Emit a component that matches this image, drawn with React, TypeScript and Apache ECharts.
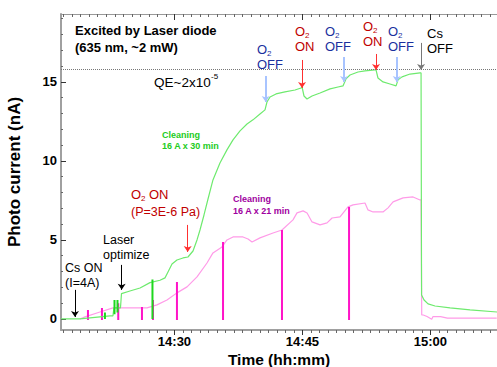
import React, { useEffect, useRef } from "react";
import * as echarts from "echarts";

// time in minutes after 14:00, current in nA
const X_MIN = 16.7;
const X_MAX = 67.8;
const Y_MIN = -0.7;
const Y_MAX = 19.3;
const MAJOR_X = [30, 45, 60];
const MINOR_X = Array.from({ length: 51 }, (_, i) => 17 + i).filter((v) => v % 15 !== 0);
const MAJOR_Y = [0, 5, 10, 15];
const MINOR_Y = [1, 2, 3, 4, 6, 7, 8, 9, 11, 12, 13, 14, 16, 17, 18, 19];
const QE_LEVEL = 15.82;

const greenCurve: number[][] = [
  [16.69, 0], [18.92, 0], [21.27, 0.13], [22.44, 0.19], [22.79, 0.2], [22.9, 0.7], [23.67, 0.7], [23.79, 1.6],
  [24.78, 1.77], [25.96, 1.96], [27.13, 2.3], [28.3, 2.45], [28.89, 2.6], [29.24, 2.97], [29.71, 3.48],
  [30.29, 3.73], [31.0, 3.86], [31.58, 3.92], [32.17, 4.3], [32.64, 5.0], [32.99, 5.63], [33.46, 6.58],
  [33.93, 7.59], [34.51, 8.8], [35.33, 9.87], [36.15, 10.7], [36.86, 11.33], [37.68, 11.9], [38.5, 12.34],
  [39.2, 12.6], [40.02, 12.97], [40.61, 13.23], [40.84, 13.73], [41.2, 14.05], [41.9, 14.24], [42.95, 14.37],
  [44.13, 14.49], [44.83, 14.62], [44.95, 14.68], [45.18, 14.11], [45.53, 13.92], [46.12, 14.11], [47.06, 14.3],
  [48.23, 14.56], [49.17, 14.68], [49.75, 14.75], [50.1, 15.19], [50.57, 15.44], [51.51, 15.63], [52.33, 15.7],
  [53.5, 15.76], [53.62, 15.76], [53.85, 15.25], [54.44, 15.0], [55.26, 14.87], [55.97, 14.75], [56.2, 15.13],
  [56.67, 15.32], [57.61, 15.5], [58.78, 15.57], [58.9, 15.57], [58.96, 1.52], [59.25, 1.2], [59.72, 0.95],
  [60.54, 0.82], [62.3, 0.7], [64.64, 0.57], [67.81, 0.44],
];

const greenSpikes: (number | string)[][] = [
  [21.85, 0], [21.85, 0.4], [21.85, "-"],
  [22.97, 0.3], [22.97, 1.2], [22.97, "-"],
  [23.32, 0.4], [23.32, 1.2], [23.32, "-"],
  [27.42, 2.5], [27.42, 0],
];

const pinkCurve: number[][] = [
  [18.92, 0], [19.51, 0.13], [21.27, 0.44], [22.79, 0.7], [25.13, 0.7], [26.78, 0.7], [27.95, 0.89],
  [29.12, 1.2], [30.29, 1.65], [31.47, 2.03], [32.64, 2.66], [33.81, 3.54], [34.51, 4.18], [35.57, 4.56],
  [36.15, 5.0], [36.86, 5.19], [38.03, 5.19], [38.62, 5.06], [39.09, 4.87], [40.02, 5.13], [41.55, 5.44],
  [42.6, 5.63], [43.89, 6.27], [44.36, 6.71], [45.07, 6.84], [45.54, 6.71], [46.12, 6.14], [47.06, 5.95],
  [47.88, 6.08], [48.47, 6.39], [49.4, 6.46], [50.34, 7.09], [50.93, 7.22], [52.33, 7.34], [52.68, 6.9],
  [53.27, 6.77], [54.44, 6.77], [55.03, 7.03], [55.62, 7.41], [56.79, 7.66], [57.96, 7.72], [58.78, 7.53],
  [58.9, 7.53], [58.98, 0.25], [59.16, 0.25], [59.6, 0.15], [60.15, -0.02], [60.3, 0.15], [61.19, 0.15],
  [61.98, 0.05], [65.0, 0.05], [67.77, 0.05],
];

const pinkSpikeX = [19.86, 21.5, 23.41, 26.19, 27.48, 30.29, 35.69, 42.6, 50.46];
const pinkSpikeTop = [0.57, 0.7, 1.0, 0.76, 1.2, 2.34, 4.87, 5.63, 7.09];

// annotation arrows: x, start value, end value, kind
const arrows: [number, number, number, string][] = [
  [18.34, 1.84, 0.13, "black"],
  [23.81, 3.42, 1.84, "black"],
  [31.55, 5.95, 4.24, "red"],
  [40.69, 15.38, 13.73, "blue"],
  [44.95, 16.39, 14.62, "red"],
  [49.87, 16.58, 15.0, "blue"],
  [53.62, 16.77, 15.76, "red"],
  [56.05, 16.58, 15.0, "blue"],
  [58.9, 17.47, 15.76, "grey"],
];

const FONT = "'Liberation Sans', Arial, sans-serif";
const RED = "#c00000";
const BLUE = "#1a2f9e";
const ARROW_COLORS: Record<string, string> = {
  black: "#000000",
  red: "#ff3030",
  blue: "#a8c4ff",
  grey: "#777777",
};

function t(x: number, y: number, text: string, size: number, fill: string, weight = "normal") {
  return {
    type: "text",
    x,
    y,
    silent: true,
    style: { text, fill, font: `${weight} ${size}px ${FONT}`, verticalAlign: "top", align: "left" },
  };
}

function o2Label(x: number, y: number, second: string, fill: string) {
  return [
    t(x, y, "O", 13, fill),
    t(x + 10, y + 6, "2", 8, fill),
    t(x, y + 15, second, 13, fill),
  ];
}

function fmtTime(v: number) {
  const h = 14 + Math.floor(v / 60);
  const m = Math.round(v % 60);
  return `${h}:${m < 10 ? "0" + m : m}`;
}

export default function App() {
  const ref = useRef<HTMLDivElement>(null);
  useEffect(() => {
    if (!ref.current) return;
    document.body.style.margin = "0";
    const chart = echarts.init(ref.current, undefined, { renderer: "svg" });

    const pinkSpikes: (number | string)[][] = [];
    pinkSpikeX.forEach((x, i) => {
      pinkSpikes.push([x, -0.06], [x, pinkSpikeTop[i]], [x, "-"]);
    });

    const baseX = {
      type: "value",
      min: X_MIN,
      max: X_MAX,
      splitLine: { show: false },
      axisLabel: { show: false },
    };
    const baseY = {
      type: "value",
      min: Y_MIN,
      max: Y_MAX,
      splitLine: { show: false },
      axisLabel: { show: false },
    };

    const option: any = {
      animation: false,
      backgroundColor: "#ffffff",
      grid: { left: 61, right: 0, top: 14, bottom: 37, outerBoundsMode: "none", containLabel: false },
      xAxis: [
        {
          ...baseX,
          position: "bottom",
          axisLine: { show: true, onZero: false, lineStyle: { color: "#a0a0a0", width: 2 } },
          axisTick: { show: true, customValues: MAJOR_X, length: 5, lineStyle: { color: "#333" } },
          axisLabel: {
            show: true,
            customValues: MAJOR_X,
            formatter: (v: number) => fmtTime(v),
            fontWeight: "bold",
            fontSize: 13,
            fontFamily: FONT,
            color: "#000",
            margin: 5,
          },
          name: "Time (hh:mm)",
          nameLocation: "middle",
          nameGap: 21,
          nameMoveOverlap: false,
          nameTextStyle: { fontWeight: "bold", fontSize: 15.5, fontFamily: FONT, color: "#000" },
        },
        {
          ...baseX,
          position: "bottom",
          axisLine: { show: false, onZero: false },
          axisTick: { show: true, customValues: MINOR_X, length: 3, lineStyle: { color: "#666" } },
        },
        {
          ...baseX,
          position: "top",
          axisLine: { show: true, onZero: false, lineStyle: { color: "#999", width: 1 } },
          axisTick: { show: true, inside: true, customValues: MINOR_X, length: 3, lineStyle: { color: "#666" } },
        },
        {
          ...baseX,
          position: "top",
          axisLine: { show: false, onZero: false },
          axisTick: { show: true, inside: true, customValues: MAJOR_X, length: 6, lineStyle: { color: "#333" } },
        },
      ],
      yAxis: [
        {
          ...baseY,
          position: "left",
          axisLine: { show: true, onZero: false, lineStyle: { color: "#a0a0a0", width: 2 } },
          axisTick: { show: true, inside: true, customValues: MAJOR_Y, length: 5, lineStyle: { color: "#333" } },
          axisLabel: {
            show: true,
            customValues: MAJOR_Y,
            fontWeight: "bold",
            fontSize: 13,
            fontFamily: FONT,
            color: "#000",
            margin: 4,
          },
          name: "Photo current (nA)",
          nameLocation: "middle",
          nameGap: 38,
          nameTextStyle: { fontWeight: "bold", fontSize: 17, fontFamily: FONT, color: "#000" },
        },
        {
          ...baseY,
          position: "left",
          axisLine: { show: false, onZero: false },
          axisTick: { show: true, inside: true, customValues: MINOR_Y, length: 2, lineStyle: { color: "#666" } },
        },
      ],
      series: [
        {
          type: "line",
          data: pinkCurve,
          showSymbol: false,
          symbol: "none",
          lineStyle: { color: "#ff9be8", width: 1.2 },
          z: 2,
        },
        {
          type: "line",
          data: pinkSpikes,
          showSymbol: false,
          symbol: "none",
          connectNulls: false,
          lineStyle: { color: "#ff14c8", width: 2 },
          z: 3,
        },
        {
          type: "line",
          data: greenCurve,
          showSymbol: false,
          symbol: "none",
          lineStyle: { color: "#6eea6e", width: 1.2 },
          z: 4,
          markLine: {
            silent: true,
            symbol: "none",
            label: { show: false },
            lineStyle: { type: "dotted", color: "#777", width: 1 },
            data: [{ yAxis: QE_LEVEL }],
          },
        },
        {
          type: "line",
          data: greenSpikes,
          showSymbol: false,
          symbol: "none",
          connectNulls: false,
          lineStyle: { color: "#1ed81e", width: 2 },
          z: 5,
        },
        {
          type: "line",
          data: [],
          showSymbol: false,
          z: 6,
          markLine: {
            silent: true,
            symbol: ["none", "arrow"],
            symbolSize: 6,
            label: { show: false },
            data: arrows.map(([x, a, b, kind]) => [
              { coord: [x, a], lineStyle: { color: ARROW_COLORS[kind], width: kind === "blue" ? 2 : 1, type: "solid" } },
              { coord: [x, b] },
            ]),
          },
        },
      ],
      graphic: [
        t(75, 24, "Excited by Laser diode", 13, "#000", "bold"),
        t(75, 41, "(635 nm, ~2 mW)", 13, "#000", "bold"),
        t(154, 75, "QE~2x10", 13.5, "#000"),
        t(211, 72, "-5", 8, "#000"),
        t(162, 130, "Cleaning", 9, "#22cc22", "bold"),
        t(162, 141, "16 A x 30 min", 9, "#22cc22", "bold"),
        t(233, 194, "Cleaning", 9, "#a000a0", "bold"),
        t(233, 206, "16 A x 21 min", 9, "#a000a0", "bold"),
        t(131, 188, "O", 13, RED),
        t(141, 194, "2", 8, RED),
        t(149, 188, "ON", 13, RED),
        t(131, 205, "(P=3E-6 Pa)", 12.5, RED),
        t(103, 233, "Laser", 12.5, "#000"),
        t(103, 248, "optimize", 12.5, "#000"),
        t(65, 261, "Cs ON", 12.5, "#000"),
        t(65, 276, "(I=4A)", 12.5, "#000"),
        ...o2Label(257, 43, "OFF", BLUE),
        ...o2Label(295, 25, "ON", RED),
        ...o2Label(325, 25, "OFF", BLUE),
        ...o2Label(363, 20, "ON", RED),
        ...o2Label(388, 25, "OFF", BLUE),
        t(427, 27, "Cs", 13, "#000"),
        t(427, 42, "OFF", 13, "#000"),
      ],
    };
    chart.setOption(option);
    return () => chart.dispose();
  }, []);
  return <div ref={ref} style={{ width: 497, height: 367 }} />;
}
